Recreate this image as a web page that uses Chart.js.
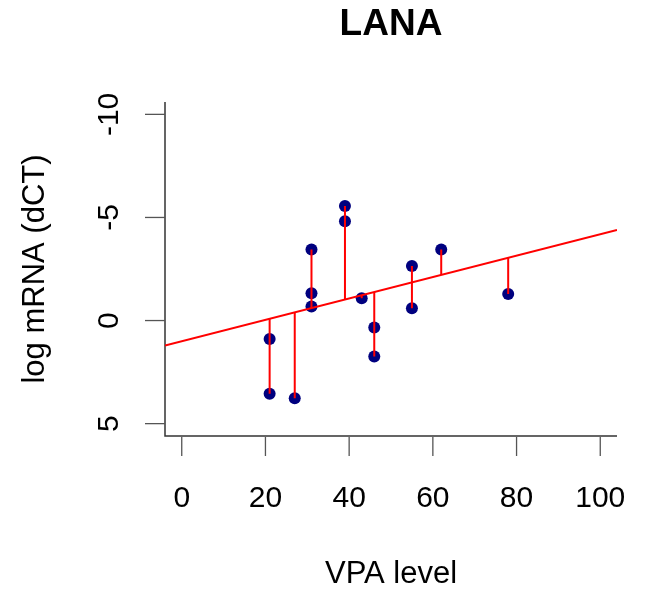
<!DOCTYPE html>
<html>
<head>
<meta charset="utf-8">
<script src="https://cdn.jsdelivr.net/npm/chart.js@4/dist/chart.umd.min.js"></script>
<style>
  html, body { margin: 0; padding: 0; background: #fff; }
  canvas { display: block; }
</style>
</head>
<body>
<canvas id="lanaChart" width="647" height="596"></canvas>
<script>
// VPA level of each sample
var vpa = [21, 21, 27, 31, 31, 31, 39, 39, 43, 46, 46, 55, 55, 62, 78];
// log mRNA (dCT) of each sample
var dct = [0.90, 3.55, 3.77, -3.45, -1.32, -0.68, -5.55, -4.82, -1.08, 0.34, 1.74, -2.65, -0.60, -3.45, -1.29];
// value of the red fit line at each sample (end of the residual segment)
var fitted = [-0.09, -0.09, -0.40, -0.61, -0.61, -0.61, -1.02, -1.02, -1.23, -1.38, -1.38, -1.85, -1.85, -2.21, -3.04];
// fit line end points, edge to edge of the plot region
var fitLineX = [-4, 104];
var fitLineY = [1.21, -4.39];
// axis ticks
var xTicks = [0, 20, 40, 60, 80, 100];
var yTicks = [-10, -5, 0, 5];

var FONT = '"Liberation Sans", Arial, Helvetica, sans-serif';

var points = vpa.map(function (x, i) { return { x: x, y: dct[i] }; });
var fitLine = fitLineX.map(function (x, i) { return { x: x, y: fitLineY[i] }; });
// residual segments, split by null gaps
var residuals = [];
vpa.forEach(function (x, i) {
    residuals.push({ x: x, y: fitted[i] });
    residuals.push({ x: x, y: dct[i] });
    residuals.push({ x: x, y: null });
});

// R style axes: L shaped box, outside ticks, rotated y labels
var rAxes = {
    id: 'rAxes',
    beforeDatasetsDraw: function (chart) {
        var ctx = chart.ctx;
        var a = chart.chartArea;
        var xs = chart.scales.x;
        var ys = chart.scales.y;
        ctx.save();
        ctx.strokeStyle = '#333';
        ctx.lineWidth = 1.5;
        ctx.beginPath();
        ctx.moveTo(a.left, a.top);
        ctx.lineTo(a.left, a.bottom);
        ctx.lineTo(a.right, a.bottom);
        ctx.stroke();

        ctx.strokeStyle = '#555';
        ctx.lineWidth = 1.3;
        ctx.fillStyle = '#000';
        ctx.font = '30px ' + FONT;

        // x axis
        ctx.textAlign = 'center';
        ctx.textBaseline = 'alphabetic';
        xTicks.forEach(function (t) {
            var px = xs.getPixelForValue(t);
            ctx.beginPath();
            ctx.moveTo(px, a.bottom + 1);
            ctx.lineTo(px, a.bottom + 20);
            ctx.stroke();
            ctx.fillText(String(t), px, a.bottom + 71);
        });

        // y axis
        yTicks.forEach(function (t) {
            var py = ys.getPixelForValue(t);
            ctx.beginPath();
            ctx.moveTo(a.left - 20, py);
            ctx.lineTo(a.left, py);
            ctx.stroke();
            ctx.save();
            ctx.translate(a.left - 47, py);
            ctx.rotate(-Math.PI / 2);
            ctx.fillText(String(t), 0, 0);
            ctx.restore();
        });

        // titles
        var cx = (a.left + a.right) / 2;
        var cy = (a.top + a.bottom) / 2;
        ctx.font = '31px ' + FONT;
        ctx.fillText('VPA level', cx, 583);
        ctx.save();
        ctx.translate(44, cy);
        ctx.rotate(-Math.PI / 2);
        ctx.fillText('log mRNA (dCT)', 0, 0);
        ctx.restore();

        ctx.font = 'bold 37px ' + FONT;
        ctx.fillText('LANA', cx, 35);
        ctx.restore();
    }
};

var ctx = document.getElementById('lanaChart').getContext('2d');
var lanaChart = new Chart(ctx, {
    type: 'scatter',
    data: {
        datasets: [{
            label: 'samples',
            data: points,
            backgroundColor: '#00007f',
            borderColor: '#00007f',
            pointRadius: 6,
            pointBorderWidth: 0,
            order: 2
        }, {
            label: 'fit',
            data: fitLine,
            showLine: true,
            borderColor: '#ff0000',
            borderWidth: 2,
            pointRadius: 0,
            order: 1
        }, {
            label: 'residuals',
            data: residuals,
            showLine: true,
            spanGaps: false,
            borderColor: '#ff0000',
            borderWidth: 2,
            pointRadius: 0,
            order: 0
        }]
    },
    options: {
        responsive: false,
        animation: false,
        events: [],
        devicePixelRatio: 1,
        layout: {
            padding: { left: 165, right: 30, top: 102, bottom: 160 }
        },
        plugins: {
            legend: { display: false },
            tooltip: { enabled: false },
            title: { display: false }
        },
        scales: {
            x: { type: 'linear', min: -4, max: 104, display: false },
            y: { type: 'linear', min: -10.6, max: 5.6, reverse: true, display: false }
        }
    },
    plugins: [rAxes]
});
</script>
</body>
</html>
